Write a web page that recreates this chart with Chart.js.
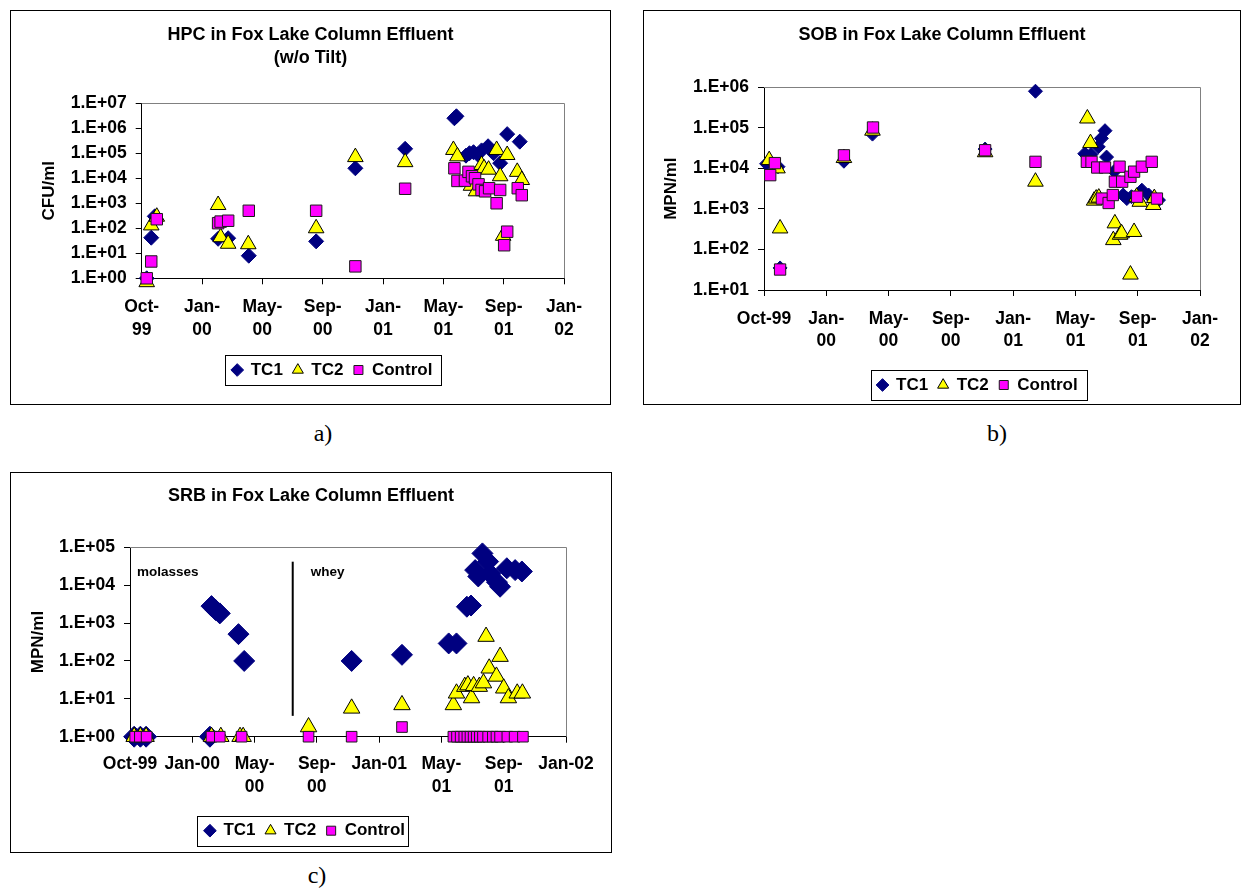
<!DOCTYPE html>
<html>
<head>
<meta charset="utf-8">
<title>Fox Lake Column Effluent</title>
<script src="https://cdn.jsdelivr.net/npm/chart.js@4.4.1/dist/chart.umd.min.js"></script>
<style>
  body { margin: 0; background: #fff; }
  #page { position: relative; width: 1243px; height: 890px; overflow: hidden; }
  .box { position: absolute; border: 1px solid #000; box-sizing: border-box; background: #fff; }
  .box canvas { position: absolute; left: 0; top: 0; }
  .cap { position: absolute; width: 60px; text-align: center; font: 24px/24px "Liberation Serif", serif; color: #000; }
</style>
</head>
<body>
<div id="page">
  <div class="box" style="left:10px; top:10px; width:601px; height:395px;"><canvas id="chartA" width="599" height="393"></canvas></div>
  <div class="box" style="left:643px; top:10px; width:598px; height:395px;"><canvas id="chartB" width="596" height="393"></canvas></div>
  <div class="box" style="left:10px; top:472px; width:602px; height:381px;"><canvas id="chartC" width="600" height="379"></canvas></div>
  <div class="cap" style="left:293px; top:421px;">a)</div>
  <div class="cap" style="left:967px; top:421px;">b)</div>
  <div class="cap" style="left:287px; top:863px;">c)</div>
</div>
<script>
// x values are days counted from 1 Oct 1999 (Excel date axis, major unit 120 days)
const xTickDays = [0, 120, 240, 360, 480, 600, 720, 840];
const xLabelsA = [['Oct-', '99'], ['Jan-', '00'], ['May-', '00'], ['Sep-', '00'], ['Jan-', '01'], ['May-', '01'], ['Sep-', '01'], ['Jan-', '02']];
const xLabelsB = ['Oct-99', ['Jan-', '00'], ['May-', '00'], ['Sep-', '00'], ['Jan-', '01'], ['May-', '01'], ['Sep-', '01'], ['Jan-', '02']];
const xLabelsC = ['Oct-99', 'Jan-00', ['May-', '00'], ['Sep-', '00'], 'Jan-01', ['May-', '01'], ['Sep-', '01'], 'Jan-02'];

const yTicksA = [1, 1e1, 1e2, 1e3, 1e4, 1e5, 1e6, 1e7];
const yLabelsA = ['1.E+00', '1.E+01', '1.E+02', '1.E+03', '1.E+04', '1.E+05', '1.E+06', '1.E+07'];
const yTicksB = [1e1, 1e2, 1e3, 1e4, 1e5, 1e6];
const yLabelsB = ['1.E+01', '1.E+02', '1.E+03', '1.E+04', '1.E+05', '1.E+06'];
const yTicksC = [1, 1e1, 1e2, 1e3, 1e4, 1e5];
const yLabelsC = ['1.E+00', '1.E+01', '1.E+02', '1.E+03', '1.E+04', '1.E+05'];

const seriesNames = ['TC1', 'TC2', 'Control'];

// a) HPC, CFU/ml
const hpcTC1Days = [10, 19, 26, 152, 172, 213, 347, 425, 524, 622, 626, 645, 652, 660, 668, 676, 689, 700, 713, 727, 752];
const hpcTC1Vals = [1, 42, 300, 38, 40, 8, 30, 25000, 150000, 2500000, 3000000, 80000, 100000, 110000, 90000, 130000, 190000, 100000, 40000, 580000, 290000];
const hpcTC2Days = [10, 19, 30, 152, 157, 172, 212, 347, 425, 524, 620, 628, 655, 665, 676, 681, 690, 706, 713, 719, 727, 747, 756];
const hpcTC2Vals = [0.7, 130, 290, 850, 44, 24, 23, 100, 70000, 44000, 135000, 75000, 5000, 3000, 34000, 25000, 22000, 135000, 12000, 50, 85000, 18000, 8500];
const hpcCtrlDays = [10, 19, 30, 152, 157, 172, 213, 347, 425, 524, 622, 628, 643, 650, 657, 663, 670, 676, 683, 691, 706, 713, 721, 727, 748, 756];
const hpcCtrlVals = [1, 4.7, 230, 160, 185, 200, 500, 500, 3, 3800, 25000, 7800, 8000, 18000, 12000, 10000, 5700, 3400, 3000, 4000, 1000, 3400, 21, 73, 4000, 2100];

// b) SOB, MPN/ml
const sobTC1Days = [5, 27, 31, 154, 209, 426, 523, 618, 630, 644, 650, 657, 660, 675, 692, 699, 708, 728, 741, 760];
const sobTC1Vals = [13000, 11000, 35, 15000, 70000, 30000, 800000, 23000, 22000, 34000, 55000, 85000, 19000, 8500, 2200, 1800, 2000, 2900, 2200, 1650];
const sobTC2Days = [10, 26, 31, 154, 209, 426, 523, 623, 629, 636, 640, 645, 673, 676, 686, 689, 706, 713, 718, 724, 750, 752];
const sobTC2Vals = [16000, 10000, 330, 18000, 85000, 25000, 4700, 170000, 42000, 1600, 1800, 1900, 170, 440, 230, 250, 24, 270, 2000, 1500, 1250, 1850];
const sobCtrlDays = [12, 21, 31, 154, 210, 426, 523, 622, 631, 642, 651, 657, 664, 672, 676, 685, 690, 706, 713, 719, 728, 747, 757];
const sobCtrlVals = [6800, 13500, 32, 21000, 102000, 28000, 14500, 14500, 14500, 10500, 1800, 10500, 1400, 2200, 4700, 11000, 4700, 6200, 8300, 2000, 11000, 14500, 1800];

// c) SRB, MPN/ml
const srbTC1Days = [8, 20, 31, 154, 157, 165, 173, 209, 220, 427, 524, 614, 629, 649, 657, 665, 671, 679, 690, 694, 707, 713, 726, 742, 755];
const srbTC1Vals = [1, 1, 1, 1, 2800, 2200, 1800, 510, 100, 100, 145, 290, 290, 2700, 2900, 25000, 17000, 69000, 42000, 20000, 12000, 9100, 28000, 25000, 23000];
const srbTC2Days = [8, 20, 31, 157, 175, 212, 218, 344, 427, 524, 623, 629, 645, 651, 658, 662, 673, 681, 686, 692, 706, 713, 720, 729, 746, 756];
const srbTC2Vals = [1, 1, 1, 1, 1, 1, 1, 1.8, 5.6, 6.9, 6.9, 14, 21, 23, 10.5, 22, 21, 26, 440, 64, 39, 130, 19, 10.5, 14, 14];
const srbCtrlDays = [10, 19, 32, 157, 173, 215, 344, 427, 524, 623, 630, 637, 644, 650, 656, 662, 668, 674, 680, 690, 699, 706, 713, 727, 741, 757];
const srbCtrlVals = [1, 1, 1, 1, 1, 1, 1, 1, 1.8, 1, 1, 1, 1, 1, 1, 1, 1, 1, 1, 1, 1, 1, 1, 1, 1, 1];

const phaseNames = ['molasses', 'whey'];

const looks = {
  tc1: { pointStyle: 'rectRot', fill: '#000080', line: '#000080' },
  tc2: { pointStyle: 'triangle', fill: '#ffff00', line: '#000000' },
  ctrl: { pointStyle: 'rect', fill: '#ff00ff', line: '#1a1a1a' }
};

Chart.defaults.font.family = '"Liberation Sans", Arial, sans-serif';
Chart.defaults.font.weight = 'bold';
Chart.defaults.color = '#000';

function series(label, days, vals, look, radius, order) {
  return {
    label: label,
    data: days.map((d, i) => ({ x: d, y: vals[i] })),
    pointStyle: look.pointStyle,
    pointRadius: radius,
    pointHoverRadius: radius,
    backgroundColor: look.fill,
    borderColor: look.line,
    pointBorderWidth: 1,
    borderWidth: 1,
    clip: false,
    order: order   // Excel draws TC1 first, Control on top
  };
}

// gray top/right plot border, legend frame, legend shift
const boxPlugin = {
  id: 'boxPlugin',
  afterLayout(chart, args, opts) {
    chart.legend.left += opts.legendShift;
    chart.legend.right += opts.legendShift;
  },
  beforeDatasetsDraw(chart) {
    const a = chart.chartArea, c = chart.ctx;
    const top = Math.round(a.top) + 0.5, right = Math.round(a.right) + 0.5;
    c.save();
    c.strokeStyle = '#808080';
    c.lineWidth = 1;
    c.beginPath();
    c.moveTo(a.left, top);
    c.lineTo(right, top);
    c.lineTo(right, a.bottom);
    c.stroke();
    c.restore();
  },
  afterDraw(chart, args, opts) {
    const hb = chart.legend.legendHitBoxes;
    if (!hb || !hb.length) return;
    const last = hb[hb.length - 1];
    const x1 = Math.round(hb[0].left - opts.frameLeft) + 0.5;
    const x2 = Math.round(last.left + last.width + opts.frameRight) + 0.5;
    const y1 = Math.round(hb[0].top - 6.5) + 0.5;
    const y2 = Math.round(hb[0].top + hb[0].height + 6.5) + 0.5;
    const c = chart.ctx;
    c.save();
    c.strokeStyle = '#000';
    c.lineWidth = 1;
    c.strokeRect(x1, y1, x2 - x1, y2 - y1);
    c.restore();
  }
};

// molasses / whey divider in chart c
const phasePlugin = {
  id: 'phasePlugin',
  beforeDatasetsDraw(chart, args, opts) {
    const x = chart.scales.x, y = chart.scales.y, c = chart.ctx;
    const px = x.getPixelForValue(opts.lineDay);
    c.save();
    c.strokeStyle = '#000';
    c.lineWidth = 2;
    c.beginPath();
    c.moveTo(px, y.getPixelForValue(opts.lineTop));
    c.lineTo(px, y.getPixelForValue(opts.lineBottom));
    c.stroke();
    c.font = 'bold 13.5px "Liberation Sans", Arial, sans-serif';
    c.fillStyle = '#000';
    c.textAlign = 'left';
    c.textBaseline = 'middle';
    phaseNames.forEach((name, i) => {
      c.fillText(name, x.getPixelForValue(opts.textDays[i]), y.getPixelForValue(opts.textValue));
    });
    c.restore();
  }
};

function makeChart(canvasId, s) {
  const ctx = document.getElementById(canvasId).getContext('2d');
  const config = {
    type: 'scatter',
    data: {
      datasets: [
        series(seriesNames[0], s.tc1[0], s.tc1[1], looks.tc1, s.radius[0], 3),
        series(seriesNames[1], s.tc2[0], s.tc2[1], looks.tc2, s.radius[1], 2),
        series(seriesNames[2], s.ctrl[0], s.ctrl[1], looks.ctrl, s.radius[2], 1)
      ]
    },
    options: {
      responsive: false,
      animation: false,
      events: [],
      layout: { autoPadding: false, padding: { left: 0, right: 0, top: 0, bottom: s.padBottom } },
      scales: {
        x: {
          type: 'linear',
          min: 0,
          max: 840,
          afterBuildTicks: (sc) => { sc.ticks = xTickDays.map(v => ({ value: v })); },
          afterFit: (sc) => { sc.height = s.xHeight; },
          grid: { display: true, drawOnChartArea: false, drawTicks: true, tickLength: 6, color: '#000' },
          border: { color: '#000', width: 1 },
          ticks: {
            autoSkip: false,
            maxRotation: 0,
            padding: s.xPad,
            font: { size: 17.5, weight: 'bold', lineHeight: 1.28 },
            callback: (v, i) => s.xLabels[i]
          }
        },
        y: {
          type: 'logarithmic',
          min: s.yTicks[0],
          max: s.yTicks[s.yTicks.length - 1],
          afterBuildTicks: (sc) => { sc.ticks = s.yTicks.map(v => ({ value: v })); },
          afterFit: (sc) => { sc.width = s.yWidth; },
          grid: { display: true, drawOnChartArea: false, drawTicks: true, tickLength: 6, color: '#000' },
          border: { color: '#000', width: 1 },
          ticks: {
            autoSkip: false,
            padding: 9,
            font: { size: 17.5, weight: 'bold' },
            callback: (v, i) => s.yLabels[i]
          },
          title: {
            display: true,
            text: s.yTitle,
            font: { size: 17, weight: 'bold' },
            padding: { top: s.yTitlePad, bottom: 0 }
          }
        },
        // empty box on the right: keeps the plot narrower without moving the title
        yr: {
          type: 'linear',
          position: 'right',
          display: true,
          grid: { display: false },
          border: { display: false },
          ticks: { display: false },
          afterFit: (sc) => { sc.width = s.rightWidth; }
        }
      },
      plugins: {
        title: {
          display: true,
          text: s.title,
          color: '#000',
          font: { size: 18, weight: 'bold', lineHeight: 1.3 },
          padding: { top: s.titlePad[0], bottom: s.titlePad[1] }
        },
        legend: {
          position: 'bottom',
          labels: {
            usePointStyle: true,
            boxWidth: 10,
            boxHeight: 9,
            padding: 10,
            color: '#000',
            font: { size: 17, weight: 'bold' },
            sort: (a, b) => a.datasetIndex - b.datasetIndex
          }
        },
        tooltip: { enabled: false },
        boxPlugin: { legendShift: s.legendShift, frameLeft: s.frame[0], frameRight: s.frame[1] },
        phasePlugin: s.phase || {}
      }
    },
    plugins: s.phase ? [boxPlugin, phasePlugin] : [boxPlugin]
  };
  return new Chart(ctx, config);
}

function myLoadFunction() {
  makeChart('chartA', {
    title: ['HPC in Fox Lake Column Effluent', '(w/o Tilt)'],
    yTitle: 'CFU/ml',
    tc1: [hpcTC1Days, hpcTC1Vals], tc2: [hpcTC2Days, hpcTC2Vals], ctrl: [hpcCtrlDays, hpcCtrlVals],
    radius: [7.5, 9, 8.1],
    xLabels: xLabelsA, yTicks: yTicksA, yLabels: yLabelsA,
    yWidth: 130.7, rightWidth: 46, titlePad: [12, 33.4],
    xHeight: 73.2, padBottom: 15.5, legendShift: 21.8, frame: [7, 9], yTitlePad: 27.7, xPad: 11.8
  });
  makeChart('chartB', {
    title: 'SOB in Fox Lake Column Effluent',
    yTitle: 'MPN/ml',
    tc1: [sobTC1Days, sobTC1Vals], tc2: [sobTC2Days, sobTC2Vals], ctrl: [sobCtrlDays, sobCtrlVals],
    radius: [7, 9, 8],
    xLabels: xLabelsB, yTicks: yTicksB, yLabels: yLabelsB,
    yWidth: 120, rightWidth: 40, titlePad: [12.5, 40.4],
    xHeight: 76.5, padBottom: 0.5, legendShift: 35.6, frame: [7, 9], yTitlePad: 16.8, xPad: 11.8
  });
  makeChart('chartC', {
    title: 'SRB in Fox Lake Column Effluent',
    yTitle: 'MPN/ml',
    tc1: [srbTC1Days, srbTC1Vals], tc2: [srbTC2Days, srbTC2Vals], ctrl: [srbCtrlDays, srbCtrlVals],
    radius: [10.5, 9.5, 7.5],
    xLabels: xLabelsC, yTicks: yTicksC, yLabels: yLabelsC,
    yWidth: 119, rightWidth: 45, titlePad: [11, 39.9],
    xHeight: 75.5, padBottom: 2.8, legendShift: -6, frame: [8, 3], yTitlePad: 17.5, xPad: 10.5,
    phase: { lineDay: 313.5, lineTop: 41700, lineBottom: 3.55, textDays: [13.5, 348], textValue: 21400 }
  });
}

document.addEventListener('DOMContentLoaded', myLoadFunction);
</script>
</body>
</html>
